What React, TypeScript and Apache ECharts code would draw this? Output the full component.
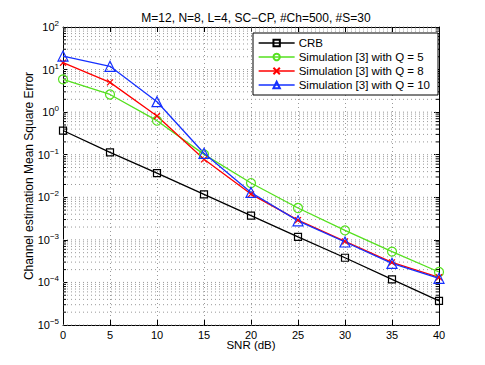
import React, { useEffect, useRef } from "react";
import * as echarts from "echarts";

const titleText = "M=12, N=8, L=4, SC\u2212CP, #Ch=500, #S=30";
const xName = "SNR (dB)";
const yName = "Channel estimation Mean Square Error";
const snr = [0, 5, 10, 15, 20, 25, 30, 35, 40];
const crb = [0.37, 0.114, 0.037, 0.0117, 0.0037, 0.00117, 0.00038, 0.000118, 0.000037];
const q5 = [5.9, 2.6, 0.63, 0.102, 0.0216, 0.0056, 0.00167, 0.00053, 0.000176];
const q8 = [14.5, 5.0, 0.81, 0.078, 0.0119, 0.0029, 0.00092, 0.000296, 0.000132];
const q10 = [20.8, 11.9, 1.76, 0.108, 0.013, 0.0028, 0.00089, 0.00028, 0.000125];
const seriesNames = ["CRB", "Simulation [3] with Q = 5", "Simulation [3] with Q = 8", "Simulation [3] with Q = 10"];
const decades = [-5, -4, -3, -2, -1, 0, 1];
const mantissas = [1, 2, 3, 4, 5, 6, 7, 8, 9];

const FONT = "Liberation Sans, Arial, Helvetica, sans-serif";

export default function App() {
  const ref = useRef<HTMLDivElement>(null);
  useEffect(() => {
    if (!ref.current) return;
    const chart = echarts.init(ref.current, null, { renderer: "svg" });
    const gridVals: number[][] = [];
    decades.forEach((e) => mantissas.forEach((m) => gridVals.push([0, m * Math.pow(10, e), m === 1 ? 1 : 0])));
    gridVals.push([0, 100, 1]);

    const mk = (name: string, data: number[], color: string, symbol: string, size: number) => ({
      type: "line",
      name,
      data: snr.map((x, i) => [x, data[i]]),
      symbol,
      symbolSize: size,
      z: 5,
      lineStyle: { color, width: 1.3 },
      itemStyle: { color: "rgba(0,0,0,0)", borderColor: color, borderWidth: 1.2 },
      emphasis: { disabled: true },
    });

    const option: any = {
      animation: false,
      backgroundColor: "#fff",
      textStyle: { fontFamily: FONT },
      title: {
        text: titleText,
        left: 251,
        textAlign: "center",
        top: 7,
        textStyle: { fontSize: 12, fontWeight: "normal", color: "#000", fontFamily: FONT },
      },
      grid: { left: 63, top: 27, width: 376, height: 298, containLabel: false },
      legend: {
        data: seriesNames,
        orient: "vertical",
        left: 253,
        top: 33,
        width: 180,
        padding: [3, 8, 3, 5],
        itemGap: 0,
        itemWidth: 36,
        itemHeight: 8,
        borderColor: "#000",
        borderWidth: 1,
        backgroundColor: "#fff",
        lineStyle: { width: 1.3 },
        textStyle: { fontSize: 11.5, color: "#000", fontFamily: FONT, lineHeight: 14, padding: [0, 0, 0, -1] },
        selectedMode: false,
        z: 10,
      },
      xAxis: [
        {
          type: "value",
          min: 0,
          max: 40,
          interval: 5,
          name: xName,
          nameLocation: "middle",
          nameGap: 14,
          nameMoveOverlap: false,
          nameTextStyle: { fontSize: 11.5, color: "#000", fontFamily: FONT },
          axisLine: { show: true, onZero: false, lineStyle: { color: "#000", width: 1 } },
          axisTick: { inside: true, length: 5, lineStyle: { color: "#000" } },
          axisLabel: { fontSize: 11, color: "#000", margin: 4, fontFamily: FONT },
          splitLine: { show: true, lineStyle: { color: "#999", type: [1, 3], width: 1 } },
        },
        {
          type: "value",
          position: "top",
          min: 0,
          max: 40,
          interval: 5,
          axisLine: { show: true, onZero: false, lineStyle: { color: "#000", width: 1 } },
          axisTick: { inside: true, length: 5, lineStyle: { color: "#000" } },
          axisLabel: { show: false },
          splitLine: { show: false },
        },
      ],
      yAxis: [
        {
          type: "log",
          logBase: 10,
          min: 1e-5,
          max: 100,
          name: yName,
          nameLocation: "middle",
          nameGap: 28,
          nameMoveOverlap: false,
          nameTextStyle: { fontSize: 12, color: "#000", fontFamily: FONT },
          axisLine: { show: true, onZero: false, lineStyle: { color: "#000", width: 1 } },
          axisTick: { inside: true, length: 5, lineStyle: { color: "#000" } },
          axisLabel: {
            color: "#000",
            fontSize: 11,
            margin: 4,
            fontFamily: FONT,
            formatter: (v: number) => {
              const e = Math.round(Math.log10(v));
              return "10{s|" + (e < 0 ? "\u2212" + -e : "" + e) + "}";
            },
            rich: { s: { fontSize: 8, padding: [0, 0, 7, 0], color: "#000", fontFamily: FONT } },
          },
          splitLine: { show: false },
        },
        {
          type: "log",
          logBase: 10,
          min: 1e-5,
          max: 100,
          position: "right",
          axisLine: { show: true, onZero: false, lineStyle: { color: "#000", width: 1 } },
          axisTick: { inside: true, length: 5, lineStyle: { color: "#000" } },
          axisLabel: { show: false },
          splitLine: { show: false },
        },
      ],
      series: [
        {
          type: "custom",
          name: "grid",
          silent: true,
          z: 1,
          clip: false,
          data: gridVals,
          renderItem: (params: any, api: any) => {
            const v = api.value(1);
            const major = api.value(2) === 1;
            const a = api.coord([0, v]);
            const b = api.coord([40, v]);
            const children: any[] = [
              {
                type: "line",
                shape: { x1: a[0], y1: a[1], x2: b[0], y2: b[1] },
                style: { stroke: "#999", lineWidth: 1, lineDash: [1, 3] },
              },
            ];
            if (!major) {
              children.push({
                type: "line",
                shape: { x1: a[0], y1: a[1], x2: a[0] + 3, y2: a[1] },
                style: { stroke: "#000", lineWidth: 1 },
              });
              children.push({
                type: "line",
                shape: { x1: b[0] - 3, y1: b[1], x2: b[0], y2: b[1] },
                style: { stroke: "#000", lineWidth: 1 },
              });
            }
            return { type: "group", children };
          },
        },
        mk(seriesNames[0], crb, "#000000", "rect", 7),
        mk(seriesNames[1], q5, "#55e01e", "circle", 9),
        mk(seriesNames[2], q8, "#ff0000", "path://M0,0L10,10M10,0L0,10", 6),
        mk(seriesNames[3], q10, "#1530ff", "triangle", 10),
      ],
    };
    chart.setOption(option);
    return () => chart.dispose();
  }, []);
  return (
    <div
      ref={ref}
      style={{ position: "fixed", left: 0, top: 0, width: 485, height: 365, background: "#fff" }}
    />
  );
}
